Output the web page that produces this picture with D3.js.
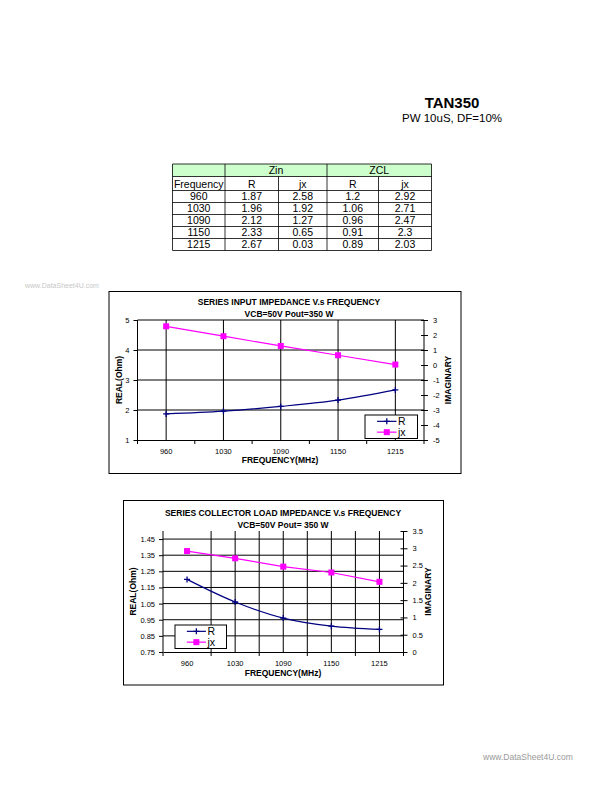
<!DOCTYPE html>
<html><head><meta charset="utf-8">
<script src="https://cdn.jsdelivr.net/npm/d3@7"></script>
<style>
body{margin:0;background:#fff;}
svg{display:block;font-family:"Liberation Sans",Arial,sans-serif;}
</style></head>
<body><svg id="c" width="612" height="792"></svg>
<script>
// ---- data ----
const frequencies = ["960","1030","1090","1150","1215"];
const zinR  = [1.87,1.96,2.12,2.33,2.67];
const zinJx = [2.58,1.92,1.27,0.65,0.03];
const zclR  = [1.2,1.06,0.96,0.91,0.89];
const zclJx = [2.92,2.71,2.47,2.3,2.03];
const tableHeader1 = ["","Zin","ZCL"];
const tableHeader2 = ["Frequency","R","jx","R","jx"];
const zclRLabels = ["1.2","1.06","0.96","0.91","0.89"];
const zclJxLabels = ["2.92","2.71","2.47","2.3","2.03"];
const chart1LeftTicks = [1,2,3,4,5];
const chart1RightTicks = [-5,-4,-3,-2,-1,0,1,2,3];
const chart2LeftTicks = [0.75,0.85,0.95,1.05,1.15,1.25,1.35,1.45];
const chart2RightTicks = [0,0.5,1,1.5,2,2.5,3,3.5];

const svg = d3.select("#c");
const NAVY = "#000080", PINK = "#ff00ff";
const hyph = f => (v => f(v).replace("\u2212","-"));

// ---- header ----
svg.append("text").attr("x",452).attr("y",108).attr("text-anchor","middle")
  .attr("font-size",15).attr("font-weight","bold").text("TAN350");
svg.append("text").attr("x",452).attr("y",122).attr("text-anchor","middle")
  .attr("font-size",11.5).text("PW 10uS, DF=10%");

// ---- table ----
(function(){
  const colX = [172.5,225,278.5,327,378.5,431.5];
  const rowY = [164,176.5,190.5,202.5,214.5,226.5,238.5,250.5];
  const g = svg.append("g");
  g.append("rect").attr("x",colX[0]).attr("y",rowY[0]).attr("width",colX[5]-colX[0]).attr("height",rowY[1]-rowY[0]).attr("fill","#ccffcc");
  const fs = 10.5;
  const t = (x,y,s)=>g.append("text").attr("x",x).attr("y",y).attr("text-anchor","middle").attr("font-size",fs).text(s);
  t((colX[1]+colX[3])/2,rowY[1]-2.3,tableHeader1[1]);
  t((colX[3]+colX[5])/2,rowY[1]-2.3,tableHeader1[2]);
  tableHeader2.forEach((h,i)=>t((colX[i]+colX[i+1])/2,rowY[2]-3,h));
  frequencies.forEach((f,r)=>{
    const y = rowY[r+3]-2.2;
    const vals=[f,zinR[r],zinJx[r],zclRLabels[r],zclJxLabels[r]];
    vals.forEach((v,i)=>t((colX[i]+colX[i+1])/2,y,String(v)));
  });
  const ln=(x1,y1,x2,y2)=>g.append("line").attr("x1",x1).attr("y1",y1).attr("x2",x2).attr("y2",y2).attr("stroke","#000").attr("stroke-width",0.8);
  rowY.forEach(y=>ln(colX[0],y,colX[5],y));
  [0,1,3,5].forEach(i=>ln(colX[i],rowY[0],colX[i],rowY[7]));
  [2,4].forEach(i=>ln(colX[i],rowY[1],colX[i],rowY[7]));
})();

// ---- watermarks ----
svg.append("text").attr("x",25).attr("y",288).attr("font-size",7).attr("fill","#c8c8c8").text("www.DataSheet4U.com");
svg.append("text").attr("x",483).attr("y",760).attr("font-size",8.5).attr("fill","#999").text("www.DataSheet4U.com");

// ---- chart drawing ----
function drawChart(o){
  const g = svg.append("g");
  g.append("rect").attr("x",o.frame[0]).attr("y",o.frame[1]).attr("width",o.frame[2]).attr("height",o.frame[3])
    .attr("fill","#fff").attr("stroke","#000").attr("stroke-width",1);
  const x = d3.scaleBand().domain(frequencies).range([o.px0,o.px1]);
  const yL = d3.scaleLinear().domain(o.leftDomain).range([o.pyB,o.pyT]);
  const yR = d3.scaleLinear().domain(o.rightDomain).range([o.pyB,o.pyT]);
  const cx = d=>x(d)+x.bandwidth()/2;
  const hg = g.append("g").attr("stroke","#000").attr("stroke-width",1);
  o.leftTicks.forEach(v=>{ if (v!==o.leftDomain[0]) hg.append("line").attr("x1",o.px0).attr("x2",o.px1).attr("y1",yL(v)).attr("y2",yL(v)); });
  const vxs = [];
  frequencies.forEach((f,i)=>{
    if (o.vCenters && !(o.skipFirstCenter && i===0)) vxs.push(cx(f));
    if (o.vEdges && i>0) vxs.push(x(f));
  });
  vxs.forEach(v=>hg.append("line").attr("x1",v).attr("x2",v).attr("y1",o.pyT).attr("y2",o.pyB));
  const ax = g.append("g").attr("transform",`translate(0,${o.pyB})`)
    .call(d3.axisBottom(x).tickSizeOuter(0).tickSize(0).tickPadding(o.xPad));
  const edges = frequencies.map(f=>x(f)).concat([o.px1]);
  edges.forEach(e=>ax.append("line").attr("x1",e).attr("x2",e).attr("y1",0).attr("y2",4).attr("stroke","#000"));
  const aL = g.append("g").attr("transform",`translate(${o.px0},0)`)
    .call(d3.axisLeft(yL).tickValues(o.leftTicks).tickFormat(o.leftFmt).tickSizeOuter(0).tickSize(4).tickPadding(4));
  aL.select(".domain").attr("d",`M0,${o.pyB}V${o.pyT}`);
  const aR = g.append("g").attr("transform",`translate(${o.px1},0)`)
    .call(d3.axisRight(yR).tickValues(o.rightTicks).tickFormat(o.rightFmt).tickSizeOuter(0).tickSize(4).tickPadding(5));
  aR.selectAll(".tick line").attr("x1",-3);
  aR.select(".domain").attr("d",`M0,${o.pyB}V${o.pyT}`);
  [ax,aL,aR].forEach(a=>{
    a.selectAll("text").attr("font-size",7.5).attr("fill","#000").attr("font-family","Liberation Sans,Arial,sans-serif");
    a.select(".domain").attr("stroke","#000");
    a.selectAll(".tick line").attr("stroke","#000");
  });
  const rLine = d3.line().x((d,i)=>cx(frequencies[i])).y(d=>yL(d)).curve(d3.curveCatmullRom.alpha(0.5));
  const jLine = d3.line().x((d,i)=>cx(frequencies[i])).y(d=>yR(d));
  g.append("path").attr("d",rLine(o.r)).attr("fill","none").attr("stroke",NAVY).attr("stroke-width",1.2);
  g.append("path").attr("d",jLine(o.jx)).attr("fill","none").attr("stroke",PINK).attr("stroke-width",1.2);
  o.r.forEach((v,i)=>{
    const px=cx(frequencies[i]), py=yL(v);
    g.append("path").attr("d",`M${px-3},${py}H${px+3}M${px},${py-3}V${py+3}`).attr("stroke",NAVY).attr("stroke-width",1.3);
  });
  g.selectAll(".sq").data(o.jx).enter().append("rect")
    .attr("x",(d,i)=>cx(frequencies[i])-3).attr("y",d=>yR(d)-3).attr("width",6).attr("height",6).attr("fill",PINK);
  g.append("text").attr("x",o.titleX).attr("y",o.titleY).attr("text-anchor","middle").attr("font-size",8.5).attr("font-weight","bold").text(o.title1);
  g.append("text").attr("x",o.titleX).attr("y",o.titleY+11.5).attr("text-anchor","middle").attr("font-size",8.5).attr("font-weight","bold").text(o.title2);
  g.append("text").attr("x",o.xTitleX).attr("y",o.xTitleY).attr("text-anchor","middle").attr("font-size",8.5).attr("font-weight","bold").text("FREQUENCY(MHz)");
  const mid = (o.pyT+o.pyB)/2;
  g.append("text").attr("transform",`translate(${o.lTitleX},${mid}) rotate(-90)`).attr("text-anchor","middle").attr("font-size",8.5).attr("font-weight","bold").text("REAL(Ohm)");
  g.append("text").attr("transform",`translate(${o.rTitleX},${mid}) rotate(-90)`).attr("text-anchor","middle").attr("font-size",8.5).attr("font-weight","bold").text("IMAGINARY");
  const L=o.legend;
  g.append("rect").attr("x",L[0]).attr("y",L[1]).attr("width",L[2]).attr("height",L[3]).attr("fill","#fff").attr("stroke","#000").attr("stroke-width",1);
  const ly1 = L[1]+L[3]*0.27, ly2 = L[1]+L[3]*0.73;
  const sx0 = L[0]+L[2]*0.23, sx1 = L[0]+L[2]*0.6;
  g.append("line").attr("x1",sx0).attr("x2",sx1).attr("y1",ly1).attr("y2",ly1).attr("stroke",NAVY).attr("stroke-width",1.2);
  g.append("path").attr("d",`M${(sx0+sx1)/2-3},${ly1}H${(sx0+sx1)/2+3}M${(sx0+sx1)/2},${ly1-3}V${ly1+3}`).attr("stroke",NAVY).attr("stroke-width",1.3);
  g.append("line").attr("x1",sx0).attr("x2",sx1).attr("y1",ly2).attr("y2",ly2).attr("stroke",PINK).attr("stroke-width",1.2);
  g.append("rect").attr("x",(sx0+sx1)/2-3).attr("y",ly2-3).attr("width",6).attr("height",6).attr("fill",PINK);
  g.append("text").attr("x",sx1+1.5).attr("y",ly1+3.8).attr("font-size",10.5).text("R");
  g.append("text").attr("x",sx1+1.5).attr("y",ly2+3.8).attr("font-size",10.5).text("jx");
}

drawChart({
  frame:[109,291.5,352,182],
  px0:137.5, px1:424, pyT:320, pyB:440,
  leftDomain:[1,5], rightDomain:[-5,3],
  leftTicks:chart1LeftTicks, rightTicks:chart1RightTicks,
  leftFmt:d3.format("d"), rightFmt:hyph(d3.format("d")),
  vCenters:true, vEdges:false, xPad:9,
  r:zinR, jx:zinJx,
  title1:"SERIES INPUT IMPEDANCE V.s FREQUENCY", title2:"VCB=50V Pout=350 W",
  titleX:289, titleY:305,
  xTitleX:280, xTitleY:463,
  lTitleX:122, rTitleX:451,
  legend:[365,415,52.5,23.5]
});

drawChart({
  frame:[123.5,500.5,320,184.5],
  px0:163, px1:403.5, pyT:531, pyB:652,
  leftDomain:[0.75,1.5], rightDomain:[0,3.5],
  leftTicks:chart2LeftTicks, rightTicks:chart2RightTicks,
  leftFmt:d3.format(".2f"), rightFmt:hyph(d3.format("~g")),
  vCenters:true, vEdges:true, skipFirstCenter:true, xPad:9,
  r:zclR, jx:zclJx,
  title1:"SERIES COLLECTOR LOAD IMPEDANCE V.s FREQUENCY", title2:"VCB=50V Pout= 350 W",
  titleX:283, titleY:516,
  xTitleX:283, xTitleY:676,
  lTitleX:136, rTitleX:431,
  legend:[175,625,51.5,23.5]
});
</script></body></html>
